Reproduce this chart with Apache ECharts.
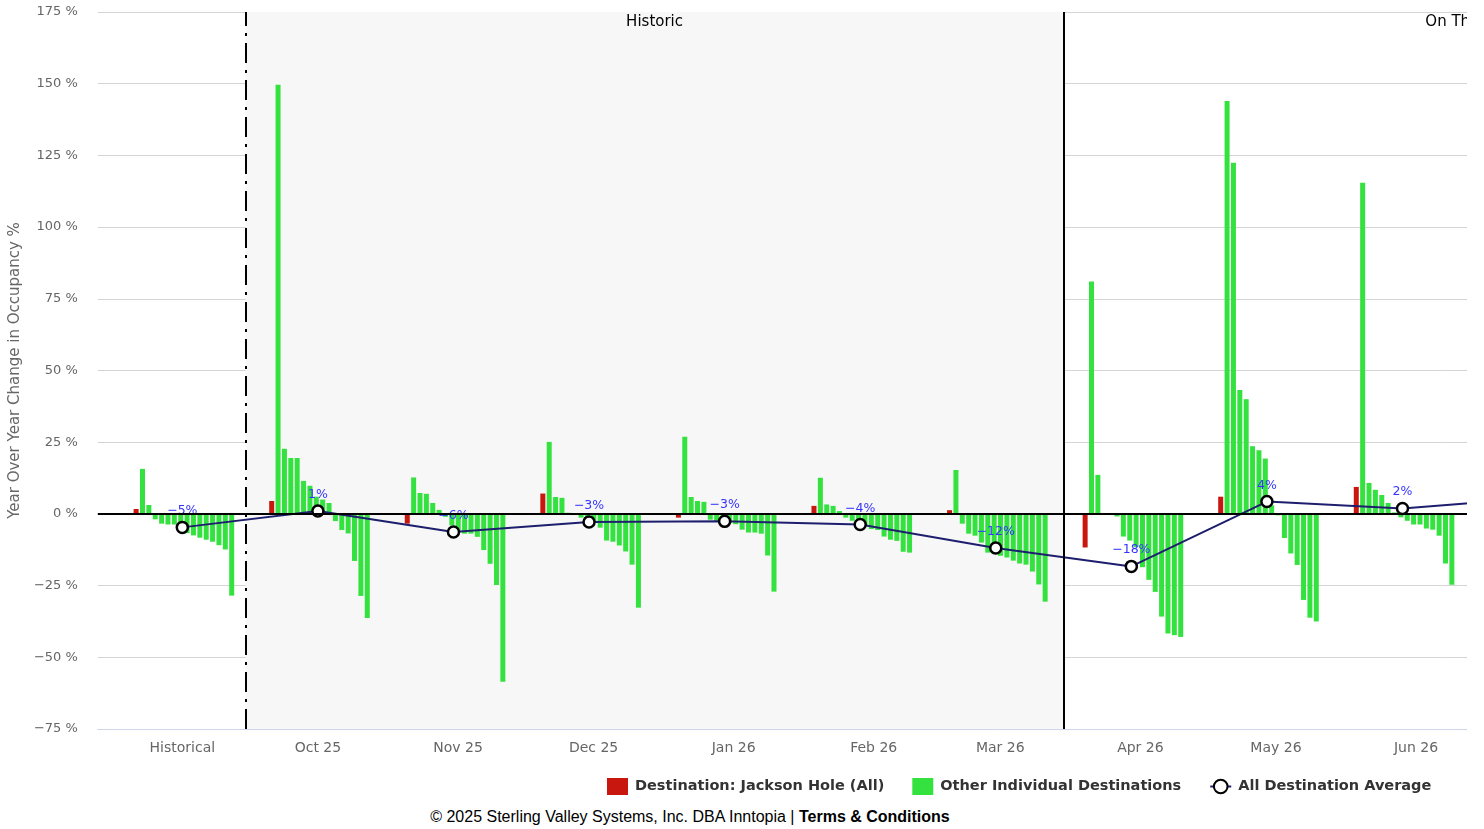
<!DOCTYPE html>
<html><head><meta charset="utf-8">
<script src="https://cdn.jsdelivr.net/npm/echarts@6/dist/echarts.min.js"></script>
<style>
html,body{margin:0;padding:0;background:#fff;}
#wrap{position:absolute;left:0;top:0;width:1467px;height:805px;overflow:hidden;}
#chart{width:1914px;height:805px;}
#footer{position:absolute;left:0;top:807px;width:1380px;text-align:center;font-family:"Liberation Sans",Arial,sans-serif;font-size:16px;line-height:20px;color:#000;}
</style></head><body>
<div id="wrap"><div id="chart"></div></div>
<div id="footer">© 2025 Sterling Valley Systems, Inc. DBA Inntopia | <b>Terms &amp; Conditions</b></div>
<script>
// ---- data ----
const groupDates = ['2025-09-01','2025-10-01','2025-10-31','2025-11-30','2025-12-30','2026-01-29','2026-02-28','2026-03-30','2026-04-29','2026-05-29','2026-06-28'];
const tickDates = ['2025-09-01','2025-10-01','2025-11-01','2025-12-01','2026-01-01','2026-02-01','2026-03-01','2026-04-01','2026-05-01','2026-06-01','2026-07-01'];
const tickLabels = ['Historical','Oct 25','Nov 25','Dec 25','Jan 26','Feb 26','Mar 26','Apr 26','May 26','Jun 26','Jul 26'];
const historicStart = '2025-09-15';
const todayDate = '2026-03-15';
const bandNames = ['Historic','On The Books'];
const seriesNames = ['Destination: Jackson Hole (All)','Other Individual Destinations','All Destination Average'];

const jacksonHole = [1.7, 4.5, -3.4, 7.1, -1.3, 2.8, 1.3, -11.7, 6.0, 9.4];
const otherHistorical = [15.7, 3.1, -1.9, -3.4, -3.7, -3.7, -5.0, -6.7, -7.5, -8.3, -9.0, -9.7, -10.9, -12.4, -28.5];
const otherOct25 = [149.6, 22.7, 19.5, 19.5, 11.5, 9.8, 6.0, 5.0, 3.8, -2.5, -5.6, -6.8, -16.4, -28.6, -36.3];
const otherNov25 = [12.7, 7.3, 7.0, 3.8, 1.4, -1.0, -4.0, -5.9, -6.9, -6.9, -8.0, -12.6, -17.4, -24.8, -58.5];
const otherDec25 = [25.1, 5.9, 5.6, 0.4, -0.4, -1.3, -2.2, -3.0, -4.8, -9.3, -9.7, -11.0, -13.1, -17.7, -32.7];
const otherJan26 = [26.9, 5.9, 4.5, 4.2, -2.0, -2.5, -3.0, -3.2, -3.6, -5.5, -6.5, -6.5, -6.9, -14.5, -27.1];
const otherFeb26 = [12.6, 3.3, 2.8, 1.0, -1.3, -2.4, -3.0, -4.0, -5.3, -5.6, -7.9, -9.0, -9.4, -13.2, -13.5];
const otherMar26 = [15.3, -3.4, -6.9, -7.6, -10.0, -13.5, -14.0, -14.6, -15.2, -16.3, -17.3, -17.7, -20.1, -24.6, -30.6];
const otherApr26 = [81.0, 13.6, 0.2, -0.3, -0.9, -7.9, -9.3, -11.5, -18.6, -23.0, -27.2, -35.8, -41.7, -42.3, -42.9];
const otherMay26 = [144.0, 122.4, 43.2, 40.0, 23.6, 22.2, 19.3, 3.0, -0.5, -8.4, -13.8, -17.8, -30.0, -36.2, -37.5];
const otherJun26 = [115.5, 10.8, 8.4, 6.6, 3.8, 0.5, -1.2, -2.4, -3.7, -3.7, -5.1, -5.5, -7.6, -17.3, -24.7];
const otherDestinations = [otherHistorical, otherOct25, otherNov25, otherDec25, otherJan26, otherFeb26, otherMar26, otherApr26, otherMay26, otherJun26];
const destinationAverage = [-4.7, 1.0, -6.3, -2.8, -2.6, -3.7, -11.9, -18.3, 4.3, 1.9, 5.6];

// ---- helpers ----
const DAY = 86400000;
const origin = Date.UTC(2025, 8, 1);
function dayOf(s){ const p = s.split('-').map(Number); return (Date.UTC(p[0], p[1]-1, p[2]) - origin) / DAY; }
const SLOT = 1.41;   // days between neighbouring columns of a group
const SHIFT = 0.35;
const X_MIN = -18.7, X_MAX = 378.1;
function slotX(g, i){ return dayOf(groupDates[g]) + (i - 7.5) * SLOT + SHIFT; }
function pct(v){ const r = Math.round(v); return (r < 0 ? '\u2212' + (-r) : '' + r) + '%'; }

const redData = jacksonHole.map((v, g) => [slotX(g, 0), v]);
const greenData = [];
otherDestinations.forEach((arr, g) => arr.forEach((v, k) => greenData.push([slotX(g, k + 1), v])));
const avgData = destinationAverage.map((v, g) => [dayOf(groupDates[g]), v]);
const tickDays = tickDates.map(dayOf);

const FONT = 'DejaVu Sans';
const chart = echarts.init(document.getElementById('chart'), null, {renderer: 'canvas'});
chart.setOption({
  animation: false,
  textStyle: {fontFamily: FONT},
  grid: {left: 97, right: 23, top: 12, bottom: 76, containLabel: false},
  legend: {
    left: 607, top: 778, padding: 0,
    data: [{name: seriesNames[0], icon: 'rect'}, {name: seriesNames[1], icon: 'rect'}, {name: seriesNames[2]}],
    itemWidth: 21, itemHeight: 17, itemGap: 28,
    textStyle: {fontFamily: FONT, fontWeight: 'bold', fontSize: 14.5, color: '#333', padding: [0,0,0,2]},
    selectedMode: false
  },
  xAxis: {
    type: 'value', min: X_MIN, max: X_MAX,
    axisLine: {onZero: false, lineStyle: {color: '#ccd6eb', width: 1}},
    axisTick: {show: false},
    splitLine: {show: false},
    axisLabel: {
      customValues: tickDays,
      color: '#666', fontSize: 14, margin: 12,
      formatter: v => { const i = tickDays.findIndex(d => Math.abs(d - v) < 0.01); return i >= 0 ? tickLabels[i] : ''; }
    }
  },
  yAxis: {
    type: 'value', min: -75, max: 175, interval: 25,
    name: 'Year Over Year Change in Occupancy %',
    nameLocation: 'middle', nameRotate: 90, nameGap: 73,
    nameTextStyle: {color: '#666', fontSize: 15, fontFamily: FONT},
    axisLine: {show: false}, axisTick: {show: false},
    splitLine: {lineStyle: {color: '#d4d4d4', width: 1}},
    axisLabel: {color: '#666', fontSize: 13, margin: 20, formatter: v => (v < 0 ? '\u2212' + (-v) : v) + ' %'}
  },
  series: [
    {
      type: 'line', data: [], z: 1, silent: true,
      markArea: {
        silent: true,
        label: {show: true, position: 'insideTop', distance: 3, color: '#000', fontSize: 15, fontFamily: FONT},
        data: [
          [{name: bandNames[0], xAxis: dayOf(historicStart), itemStyle: {color: '#f7f7f7'}}, {xAxis: dayOf(todayDate)}],
          [{name: bandNames[1], xAxis: dayOf(todayDate), itemStyle: {color: 'rgba(255,255,255,0)'}}, {xAxis: X_MAX}]
        ]
      }
    },
    {
      name: seriesNames[0], type: 'bar', data: redData, barWidth: 5, barGap: '-100%', z: 2,
      itemStyle: {color: '#c8170f'}
    },
    {
      name: seriesNames[1], type: 'bar', data: greenData, barWidth: 5, barGap: '-100%', z: 2,
      itemStyle: {color: '#34e23f'}
    },
    {
      type: 'line', data: [], z: 3, silent: true,
      markLine: {
        silent: true, symbol: ['none', 'none'], label: {show: false},
        data: [
          {yAxis: 0, lineStyle: {color: '#000', width: 2, type: 'solid'}},
          {xAxis: dayOf(historicStart), lineStyle: {color: '#000', width: 2, type: [20, 7, 3, 7]}},
          {xAxis: dayOf(todayDate), lineStyle: {color: '#000', width: 2, type: 'solid'}}
        ]
      }
    },
    {
      name: seriesNames[2], type: 'line', data: avgData, z: 4,
      symbol: 'circle', symbolSize: 11,
      lineStyle: {color: '#1e1e6e', width: 2},
      itemStyle: {color: '#fff', borderColor: '#000', borderWidth: 2.5},
      label: {show: true, position: 'top', distance: 3, color: '#3434ff', fontSize: 12.5, fontFamily: FONT,
        formatter: p => pct(p.value[1])}
    }
  ]
});
</script></body></html>
